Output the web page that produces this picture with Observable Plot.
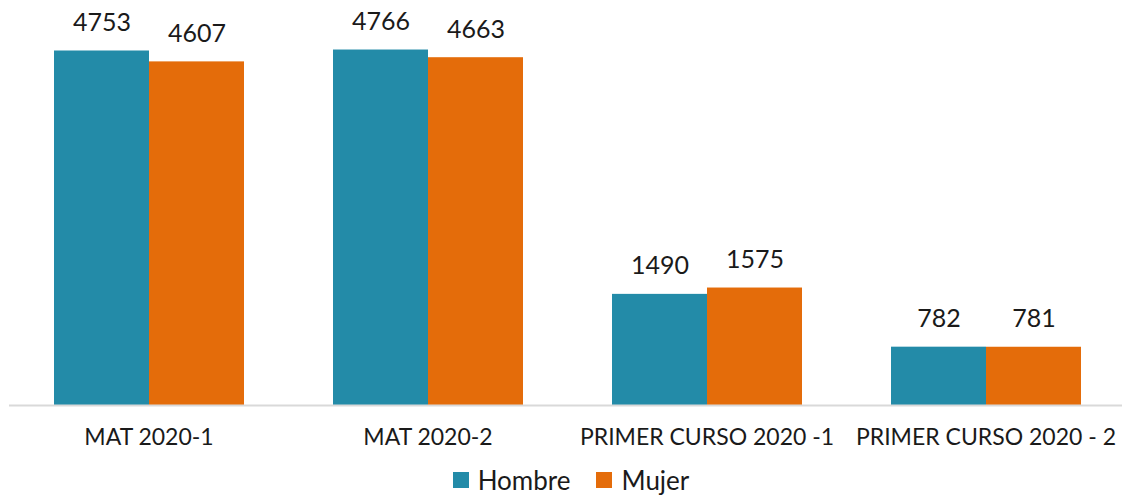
<!DOCTYPE html>
<html>
<head>
<meta charset="utf-8">
<script src="https://cdn.jsdelivr.net/npm/d3@7"></script>
<script src="https://cdn.jsdelivr.net/npm/@observablehq/plot@0.6"></script>
<style>
  html, body { margin: 0; padding: 0; background: #fff; overflow: hidden; }
  body { width: 1122px; font-family: Lato, "Open Sans", sans-serif; }
  #legend { display: flex; justify-content: center; align-items: center; font-size: 26px; color: #1a1a1a; margin-top: 1px; margin-left: 20px; }
  .sw { display: inline-flex; align-items: center; margin: 0 13px; }
  .sw span.box { display: inline-block; width: 16px; height: 16px; margin-right: 9px; }
  g[aria-label^="fx-axis"] { font-size: 23px; }
  g[aria-label^="fx-axis"] text { font-size: 23px; }
</style>
</head>
<body>
<div id="chart"></div>
<div id="legend"></div>
<script>
const categories = ["MAT 2020-1", "MAT 2020-2", "PRIMER CURSO 2020 -1", "PRIMER CURSO 2020 - 2"];
const series = ["Hombre", "Mujer"];
const hombre = [4753, 4766, 1490, 782];
const mujer = [4607, 4663, 1575, 781];
const colors = ["#238BA8", "#E46C0A"];

const data = [];
categories.forEach((c, i) => {
  data.push({cat: c, sex: "Hombre", value: hombre[i]});
  data.push({cat: c, sex: "Mujer", value: mujer[i]});
});

const plot = Plot.plot({
  width: 1122,
  height: 463,
  marginLeft: 9,
  marginRight: -3,
  marginTop: 0,
  marginBottom: 58,
  style: {fontFamily: "Lato, 'Open Sans', sans-serif", color: "#1a1a1a", background: "#fff"},
  fx: {domain: categories, padding: 0, axis: "bottom", label: null, tickSize: 0, tickPadding: 23},
  x: {domain: series, paddingInner: 0, paddingOuter: 0.468, axis: null},
  y: {domain: [0, 5430], axis: null},
  color: {domain: series, range: colors},
  marks: [
    Plot.barY(data, {fx: "cat", x: "sex", y: "value", fill: "sex", inset: 0}),
    Plot.ruleY([0], {stroke: "#d9d9d9", strokeWidth: 2}),
    Plot.text(data, {fx: "cat", x: "sex", y: "value", text: d => String(d.value), lineAnchor: "bottom", dy: -20, fontSize: 25, fill: "#1a1a1a"})
  ]
});
document.getElementById("chart").appendChild(plot);

const color = plot.scale("color");
const legend = document.getElementById("legend");
series.forEach(s => {
  const item = document.createElement("span");
  item.className = "sw";
  const box = document.createElement("span");
  box.className = "box";
  box.style.background = color.apply(s);
  item.appendChild(box);
  item.appendChild(document.createTextNode(s));
  legend.appendChild(item);
});
</script>
</body>
</html>
